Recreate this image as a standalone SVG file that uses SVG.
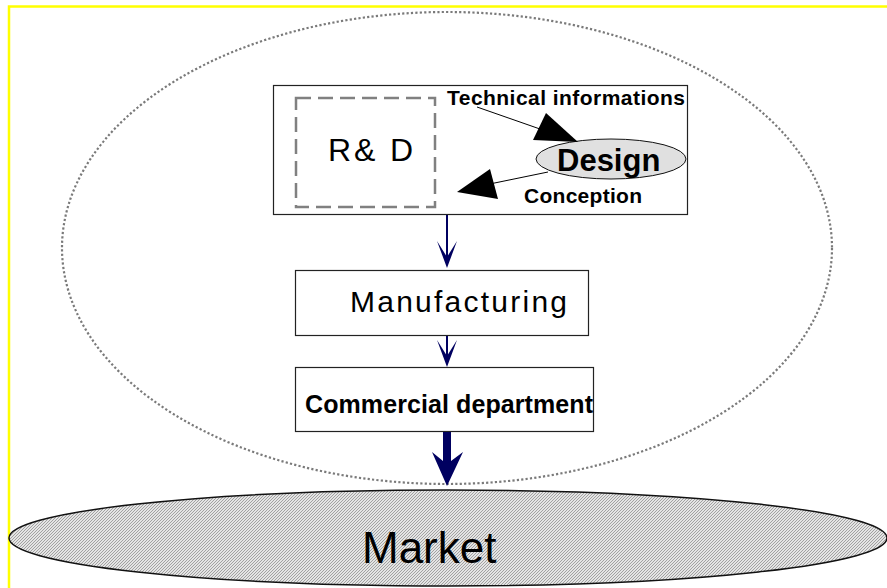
<svg xmlns="http://www.w3.org/2000/svg" width="887" height="588" viewBox="0 0 887 588">
<style>
  .box { fill: #ffffff; stroke: #222222; stroke-width: 1.2; }
  .sans { font-family: "Liberation Sans", Arial, sans-serif; fill: #000000; }
  .bold { font-weight: bold; }
  .nav { fill: #000060; stroke: none; }
  .navline { stroke: #000060; stroke-width: 2; fill: none; }
</style>
<defs>
  <pattern id="hatch" width="3" height="3" patternUnits="userSpaceOnUse">
    <rect width="3" height="3" fill="#e4e4e4"/>
    <path d="M0,3 L3,0" stroke="#9a9a9a" stroke-width="0.9"/>
  </pattern>
</defs>
<rect width="887" height="588" fill="#ffffff"/>
<path d="M9,588 V6.5 H887" fill="none" stroke="#ffff00" stroke-width="2.5"/>

<g id="scope">
  <ellipse cx="447" cy="248" rx="385" ry="236" fill="none" stroke="#7a7a7a" stroke-width="2.2" stroke-dasharray="2.2 2.2"/>
</g>

<g id="market">
  <ellipse cx="448" cy="538" rx="439" ry="48" fill="url(#hatch)" stroke="#111111" stroke-width="1.5"/>
  <text class="sans" x="362" y="563" font-size="44">Market</text>
</g>

<g id="rd-block">
  <rect class="box" x="273.5" y="85.5" width="414" height="129"/>
</g>

<g id="rd">
  <rect x="296" y="98" width="139" height="109" fill="none" stroke="#808080" stroke-width="2.5" stroke-dasharray="15 7"/>
  <text class="sans" x="328" y="161" font-size="32" textLength="85" lengthAdjust="spacing">R&amp; D</text>
</g>

<g id="design">
  <ellipse cx="611" cy="159" rx="75" ry="20" fill="#e0e0e0" stroke="#111111" stroke-width="1"/>
  <text class="sans bold" x="557" y="171" font-size="31">Design</text>
</g>

<g id="manufacturing">
  <rect class="box" x="295.5" y="270.5" width="293" height="65"/>
  <text class="sans" x="350" y="312" font-size="30" textLength="217" lengthAdjust="spacing">Manufacturing</text>
</g>

<g id="commercial">
  <rect class="box" x="295.5" y="367.5" width="298" height="64"/>
  <text class="sans bold" x="305" y="413" font-size="25" textLength="288" lengthAdjust="spacing">Commercial department</text>
</g>

<g id="connectors">
  <text class="sans bold" x="447" y="105" font-size="21" textLength="238" lengthAdjust="spacing">Technical informations</text>
  <line x1="477" y1="107" x2="560" y2="136" stroke="#000000" stroke-width="1"/>
  <polygon points="546,113 533,140 578,142" fill="#000000"/>
  <text class="sans bold" x="524" y="203" font-size="21" textLength="118" lengthAdjust="spacing">Conception</text>
  <line x1="548" y1="172" x2="480" y2="186" stroke="#000000" stroke-width="1"/>
  <polygon points="490,169 498,199 457,192" fill="#000000"/>

  <line class="navline" x1="447" y1="215" x2="447" y2="258"/>
  <polygon class="nav" points="437,241 447,268 457,241 447,257"/>
  <line class="navline" x1="447" y1="336" x2="447" y2="358"/>
  <polygon class="nav" points="437,340 447,367 457,340 447,356"/>

  <rect class="nav" x="443" y="432" width="8" height="30"/>
  <polygon class="nav" points="432,452 447,486 463,452 451,461 443,461"/>
</g>
</svg>
